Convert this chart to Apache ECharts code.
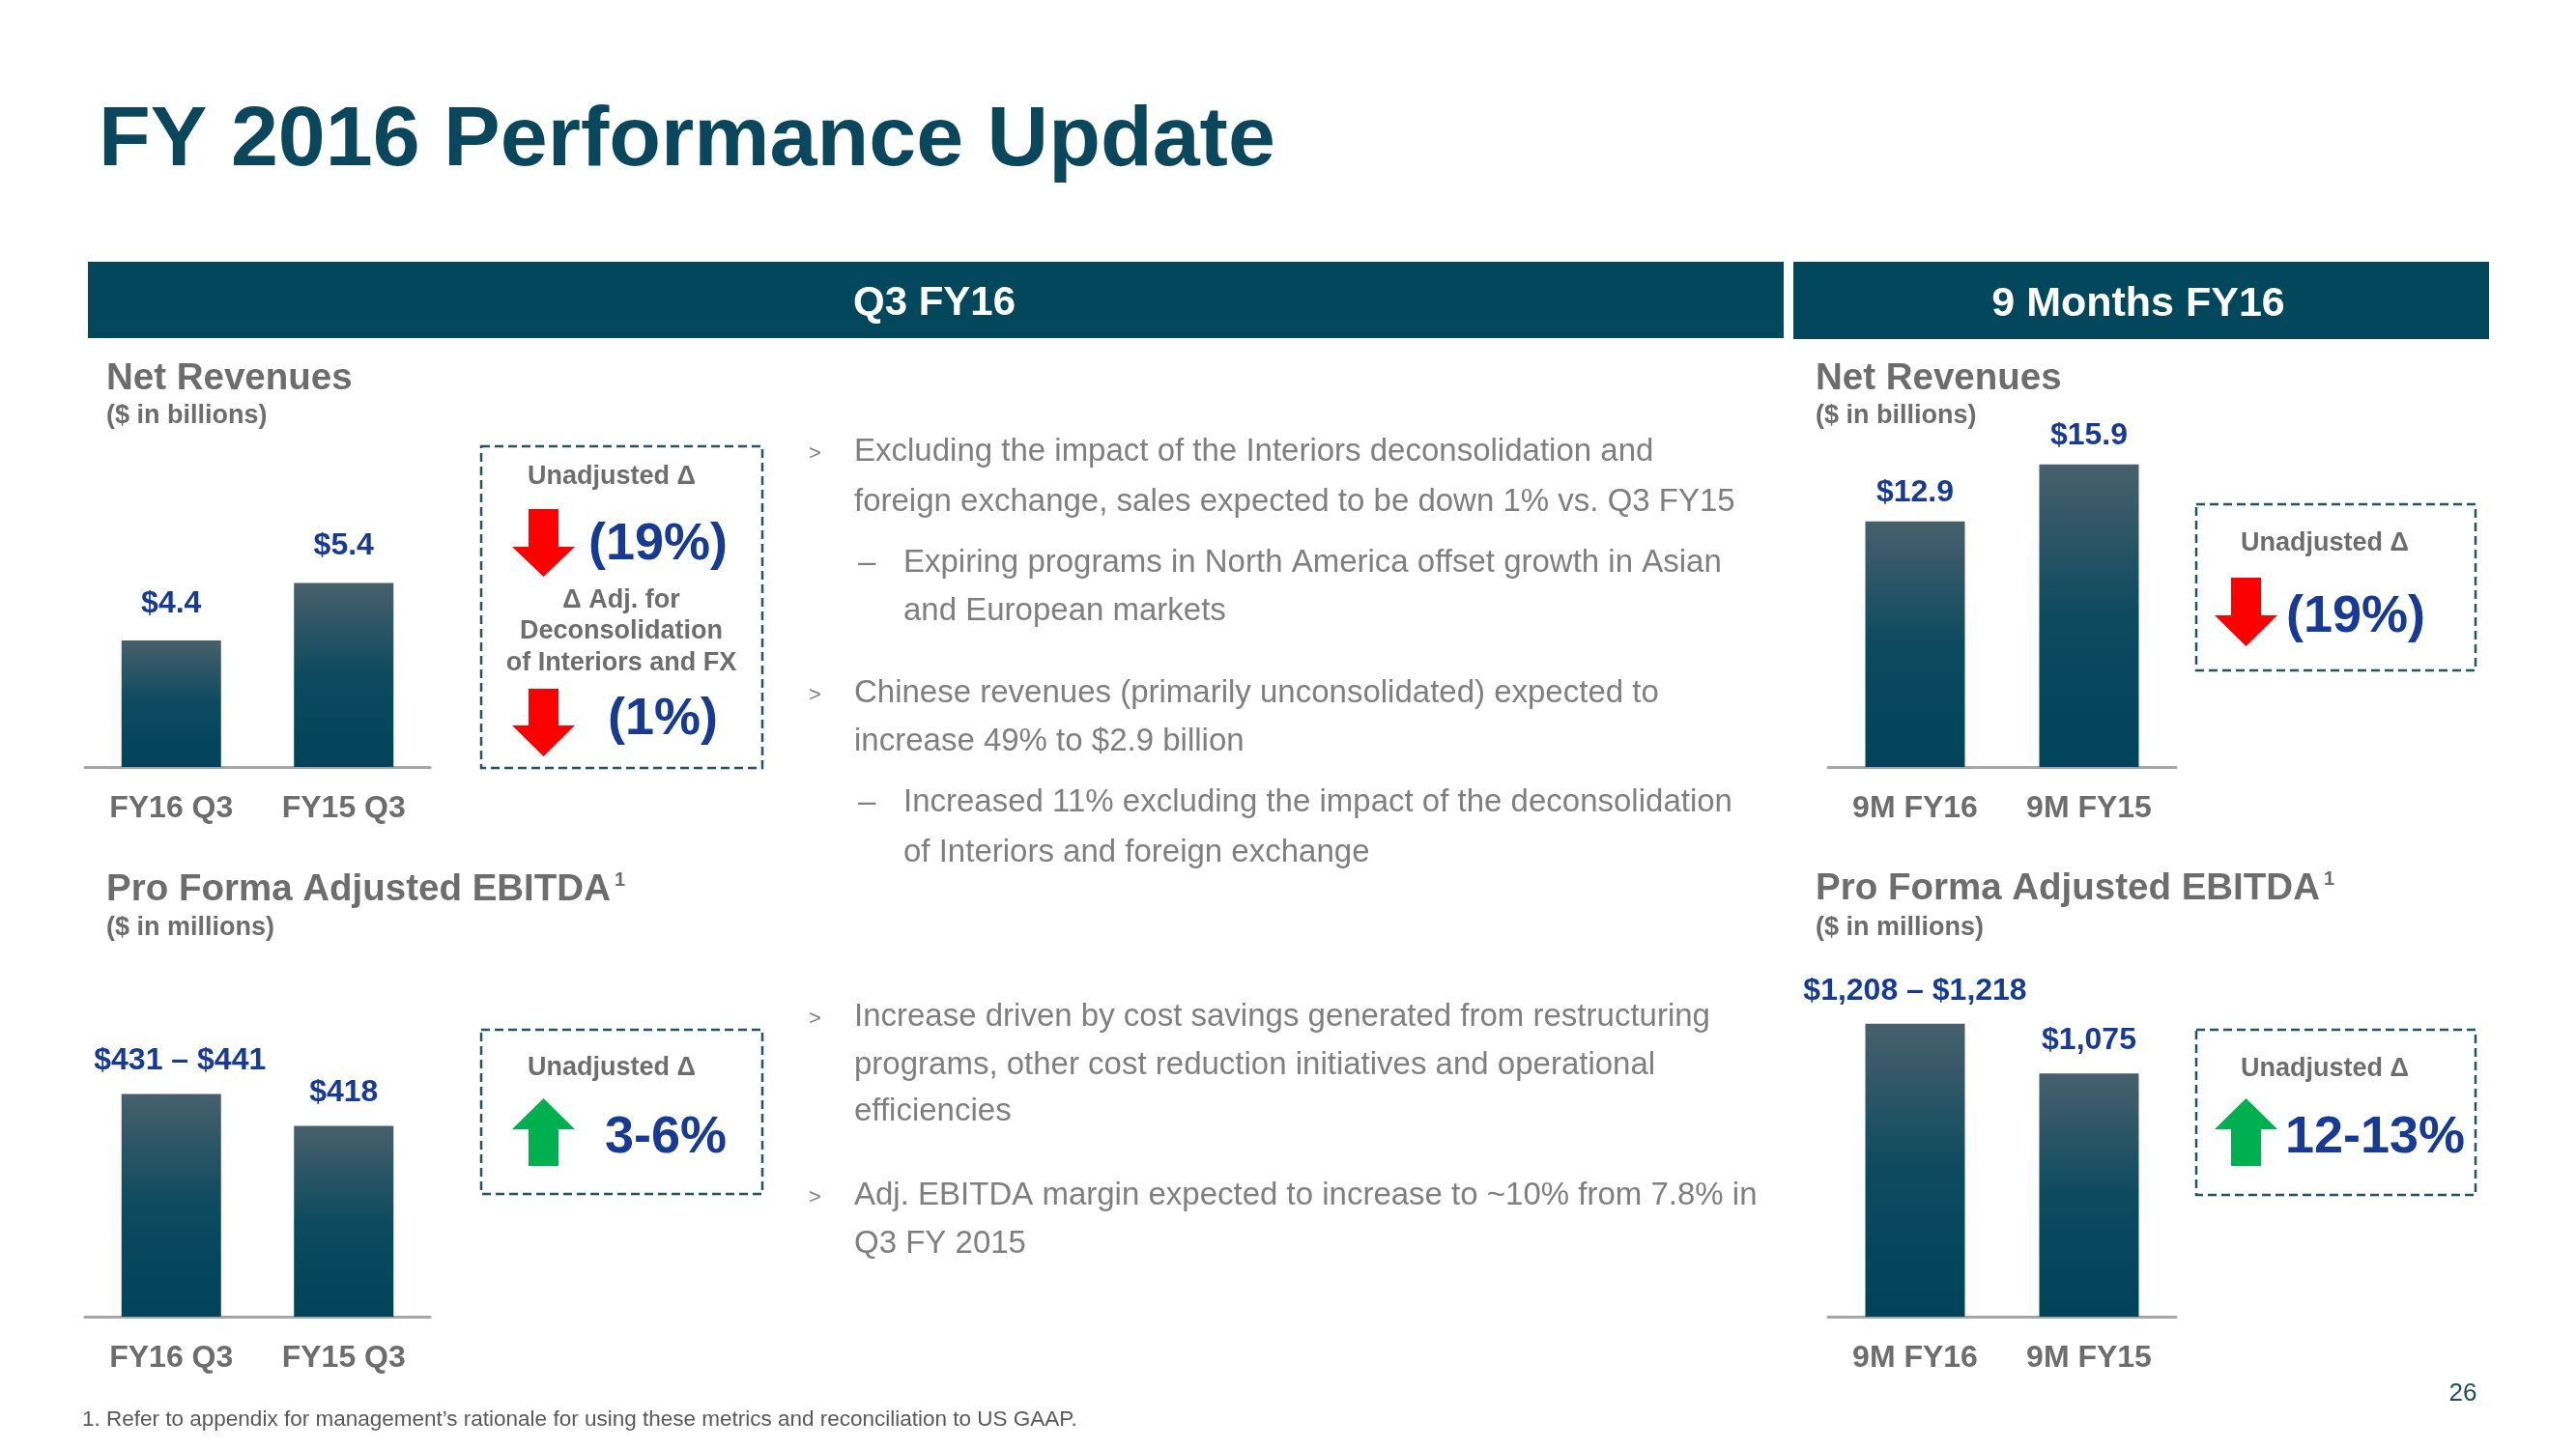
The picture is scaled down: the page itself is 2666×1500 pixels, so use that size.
<!DOCTYPE html>
<html><head><meta charset="utf-8">
<script src="https://cdn.jsdelivr.net/npm/echarts@6/dist/echarts.min.js"></script>
<style>html,body{margin:0;padding:0;background:#fff}#c{width:2666px;height:1500px}</style>
</head><body><div id="c"></div>
<script>
// ---- data ----
const q3Categories = ['FY16 Q3', 'FY15 Q3'];
const q3Revenue = [4.4, 5.4];
const q3RevenueLabels = ['$4.4', '$5.4'];
const q3Ebitda = [436, 418];
const q3EbitdaLabels = ['$431 – $441', '$418'];
const nineMCategories = ['9M FY16', '9M FY15'];
const nineMRevenue = [12.9, 15.9];
const nineMRevenueLabels = ['$12.9', '$15.9'];
const nineMEbitda = [1213, 1075];
const nineMEbitdaLabels = ['$1,208 – $1,218', '$1,075'];

const FONT = '"Liberation Sans", Arial, Helvetica, sans-serif';
const GRAY = '#6d6d6d';
const BODY = '#7f7f7f';
const BLUE = '#173a94';
const TEAL = '#02475c';
const DY = 3;

const chart = echarts.init(document.getElementById('c'), null, {renderer: 'canvas', width: 2666, height: 1500});

function barGrad() {
  return new echarts.graphic.LinearGradient(0, 0, 0, 1, [
    {offset: 0, color: '#485f6c'}, {offset: 0.5, color: '#0c4a5f'}, {offset: 1, color: '#01435a'}
  ]);
}

const grids = [
  {left: 88, top: 532, width: 357, height: 262},
  {left: 88, top: 1063, width: 357, height: 300},
  {left: 1892, top: 400, width: 360, height: 394},
  {left: 1892, top: 964, width: 360, height: 399}
].map(g => Object.assign({outerBoundsMode: 'none', containLabel: false}, g));

const cats = [q3Categories, q3Categories, nineMCategories, nineMCategories];
const yRanges = [[2.2, 6.6], [310, 474], [0, 20], [400, 1470]];
const values = [q3Revenue, q3Ebitda, nineMRevenue, nineMEbitda];
const labels = [q3RevenueLabels, q3EbitdaLabels, nineMRevenueLabels, nineMEbitdaLabels];
const dists = [22, 18, 14, 18];
const labelShift = [[0, 0], [9, 0], [0, 0], [0, 0]];

const xAxis = cats.map((c, i) => ({
  type: 'category', gridIndex: i, data: c,
  axisLine: {lineStyle: {color: '#a6a6a6', width: 3}},
  axisTick: {show: false},
  splitLine: {show: false},
  axisLabel: {color: GRAY, fontSize: 32, fontWeight: 'bold', fontFamily: FONT, margin: 27}
}));
const yAxis = yRanges.map((r, i) => ({
  type: 'value', gridIndex: i, min: r[0], max: r[1], show: false, splitLine: {show: false}
}));
const series = values.map((v, i) => ({
  type: 'bar', xAxisIndex: i, yAxisIndex: i, barWidth: 103,
  data: v.map((val, j) => ({value: val, label: {offset: [labelShift[i][j], 0]}})),
  itemStyle: {color: barGrad()},
  label: {
    show: true, position: 'top', distance: dists[i],
    formatter: p => labels[i][p.dataIndex],
    color: BLUE, fontSize: 32, fontWeight: 'bold', fontFamily: FONT
  }
}));

function T(text, x, y, size, color, weight, align) {
  return {type: 'text', x: x, y: y + DY, silent: true, z: 10,
    style: {text: text, fill: color, font: (weight || 'normal') + ' ' + size + 'px ' + FONT,
      align: align || 'left', verticalAlign: 'middle'}};
}
function box(x, y, w, h) {
  return {type: 'rect', silent: true, shape: {x: x, y: y, width: w, height: h},
    style: {fill: null, stroke: '#1f5565', lineWidth: 2.5, lineDash: [9, 5]}};
}
function downArrow(cx, top, headY, tip) {
  return {type: 'polygon', silent: true, shape: {points: [
    [cx - 15.5, top], [cx + 15.5, top], [cx + 15.5, headY], [cx + 32.5, headY], [cx, tip], [cx - 32.5, headY], [cx - 15.5, headY]]},
    style: {fill: '#ff0000'}};
}
function upArrow(cx, tip, headY, bottom) {
  return {type: 'polygon', silent: true, shape: {points: [
    [cx, tip], [cx + 32.5, headY], [cx + 15.5, headY], [cx + 15.5, bottom], [cx - 15.5, bottom], [cx - 15.5, headY], [cx - 32.5, headY]]},
    style: {fill: '#00b050'}};
}

const graphics = [
  T('FY 2016 Performance Update', 102, 144, 88, '#0b475c', 'bold'),
  {type: 'rect', silent: true, shape: {x: 91, y: 271, width: 1755, height: 79}, style: {fill: TEAL}},
  {type: 'rect', silent: true, shape: {x: 1856, y: 271, width: 720, height: 80}, style: {fill: TEAL}},
  T('Q3 FY16', 967, 311, 42, '#ffffff', 'bold', 'center'),
  T('9 Months FY16', 2213, 312, 43, '#ffffff', 'bold', 'center'),

  T('Net Revenues', 110, 389, 38.5, GRAY, 'bold'),
  T('($ in billions)', 110, 428, 27, GRAY, 'bold'),
  T('Pro Forma Adjusted EBITDA', 110, 918, 38.5, GRAY, 'bold'),
  T('1', 636, 908, 20, GRAY, 'bold'),
  T('($ in millions)', 110, 958, 27, GRAY, 'bold'),

  T('Net Revenues', 1879, 389, 38.5, GRAY, 'bold'),
  T('($ in billions)', 1879, 428, 27, GRAY, 'bold'),
  T('Pro Forma Adjusted EBITDA', 1879, 917, 38.5, GRAY, 'bold'),
  T('1', 2405, 907, 20, GRAY, 'bold'),
  T('($ in millions)', 1879, 958, 27, GRAY, 'bold'),

  // box 1
  box(498, 462, 291, 333),
  T('Unadjusted Δ', 633, 491, 27, GRAY, 'bold', 'center'),
  downArrow(562.5, 527, 566, 597),
  T('(19%)', 681, 561, 54, BLUE, 'bold', 'center'),
  T('Δ Adj. for', 643, 619, 27, GRAY, 'bold', 'center'),
  T('Deconsolidation', 643, 651, 27, GRAY, 'bold', 'center'),
  T('of Interiors and FX', 643, 684, 27, GRAY, 'bold', 'center'),
  downArrow(562.5, 713, 751, 783),
  T('(1%)', 686, 742, 54, BLUE, 'bold', 'center'),

  // box 2
  box(498, 1066, 291, 170),
  T('Unadjusted Δ', 633, 1103, 27, GRAY, 'bold', 'center'),
  upArrow(562.5, 1137, 1169, 1207),
  T('3-6%', 689, 1175, 54, BLUE, 'bold', 'center'),

  // box 3
  box(2273, 522, 289, 172),
  T('Unadjusted Δ', 2406, 560, 27, GRAY, 'bold', 'center'),
  downArrow(2324.5, 598, 637, 669),
  T('(19%)', 2438, 636, 54, BLUE, 'bold', 'center'),

  // box 4
  box(2273, 1066, 289, 171),
  T('Unadjusted Δ', 2406, 1104, 27, GRAY, 'bold', 'center'),
  upArrow(2324.5, 1137, 1169, 1207),
  T('12-13%', 2458, 1175, 54, BLUE, 'bold', 'center'),

  // body text
  T('>', 837, 467, 22, BODY),
  T('Excluding the impact of the Interiors deconsolidation and', 884, 465, 33, BODY),
  T('foreign exchange, sales expected to be down 1% vs. Q3 FY15', 884, 517, 33, BODY),
  T('–', 888, 580, 33, BODY),
  T('Expiring programs in North America offset growth in Asian', 935, 580, 33, BODY),
  T('and European markets', 935, 630, 33, BODY),
  T('>', 837, 717, 22, BODY),
  T('Chinese revenues (primarily unconsolidated) expected to', 884, 715, 33, BODY),
  T('increase 49% to $2.9 billion', 884, 765, 33, BODY),
  T('–', 888, 828, 33, BODY),
  T('Increased 11% excluding the impact of the deconsolidation', 935, 828, 33, BODY),
  T('of Interiors and foreign exchange', 935, 880, 33, BODY),
  T('>', 837, 1052, 22, BODY),
  T('Increase driven by cost savings generated from restructuring', 884, 1050, 33, BODY),
  T('programs, other cost reduction initiatives and operational', 884, 1100, 33, BODY),
  T('efficiencies', 884, 1148, 33, BODY),
  T('>', 837, 1237, 22, BODY),
  T('Adj. EBITDA margin expected to increase to ~10% from 7.8% in', 884, 1235, 33, BODY),
  T('Q3 FY 2015', 884, 1285, 33, BODY),

  T('1. Refer to appendix for management’s rationale for using these metrics and reconciliation to US GAAP.', 85, 1467, 22.5, '#595959'),
  T('26', 2549, 1440, 26, '#1d4f5e', 'normal', 'center')
];

chart.setOption({
  backgroundColor: '#ffffff',
  animation: false,
  grid: grids,
  xAxis: xAxis,
  yAxis: yAxis,
  series: series,
  graphic: {elements: graphics}
});
</script></body></html>
